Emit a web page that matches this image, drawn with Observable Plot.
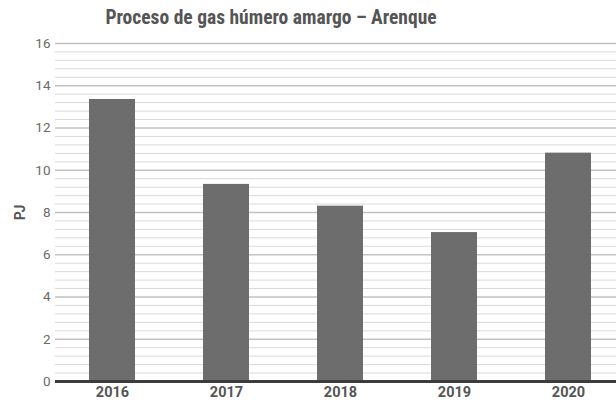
<!DOCTYPE html>
<html>
<head>
<meta charset="utf-8">
<script src="https://cdn.jsdelivr.net/npm/d3@7"></script>
<script src="https://cdn.jsdelivr.net/npm/@observablehq/plot@0.6"></script>
<style>
  html, body { margin: 0; padding: 0; background: #fff; overflow: hidden; }
  #wrap { position: relative; width: 616px; height: 401px; }
  #title { position: absolute; left: 0; top: 6px; width: 542px; text-align: center;
           font-family: "Liberation Sans Narrow", "Roboto Condensed", Roboto, sans-serif; font-weight: 700; font-size: 19.5px; color: #555; white-space: nowrap; z-index: 2; }
</style>
</head>
<body>
<div id="wrap">
  <div id="title"></div>
</div>
<script>
const titleText = "Proceso de gas húmero amargo – Arenque";
const yLabel = "PJ";
const years = ["2016", "2017", "2018", "2019", "2020"];
const values = [13.35, 9.33, 8.30, 7.05, 10.81];
const majorTicks = [0, 2, 4, 6, 8, 10, 12, 14, 16];
const minorStep = 0.4;

document.getElementById("title").textContent = titleText;

const data = years.map((y, i) => ({year: y, value: values[i]}));
const minorTicks = d3.range(0, 41).map(i => +(i * minorStep).toFixed(2)).filter(v => !majorTicks.includes(v));

const chart = Plot.plot({
  width: 616,
  height: 401,
  marginTop: 43,
  marginBottom: 20,
  marginLeft: 55,
  marginRight: 0,
  style: {fontFamily: "Roboto, sans-serif", background: "transparent"},
  x: {type: "band", domain: years, range: [55, 625], paddingInner: 0.6, paddingOuter: 0.3},
  y: {domain: [0, 16]},
  marks: [
    Plot.ruleY(minorTicks, {stroke: "#dadada", strokeWidth: 1}),
    Plot.ruleY(majorTicks.filter(d => d > 0), {stroke: "#c2c2c2", strokeWidth: 1.5}),
    Plot.barY(data, {x: "year", y: "value", fill: "#6d6d6d"}),
    Plot.ruleY([0], {stroke: "#3c3c3c", strokeWidth: 3}),
    Plot.axisY({ticks: majorTicks, tickSize: 0, tickPadding: 5, fontSize: 13.5, color: "#6a6a6a",
                label: yLabel, labelAnchor: "center", labelArrow: "none", labelOffset: 40}),
    Plot.axisX({tickSize: 0, tickPadding: 5, fontSize: 14.5, fontWeight: "bold", color: "#555", label: null})
  ]
});
document.getElementById("wrap").appendChild(chart);
chart.style.position = "absolute";
chart.style.left = "0";
chart.style.top = "0";
chart.querySelectorAll("g[aria-label='y-axis label'] text, g[aria-label='y-axis label']").forEach(el => {
  el.setAttribute("font-weight", "bold");
  el.setAttribute("font-size", "14");
  el.setAttribute("fill", "#555");
});
</script>
</body>
</html>
